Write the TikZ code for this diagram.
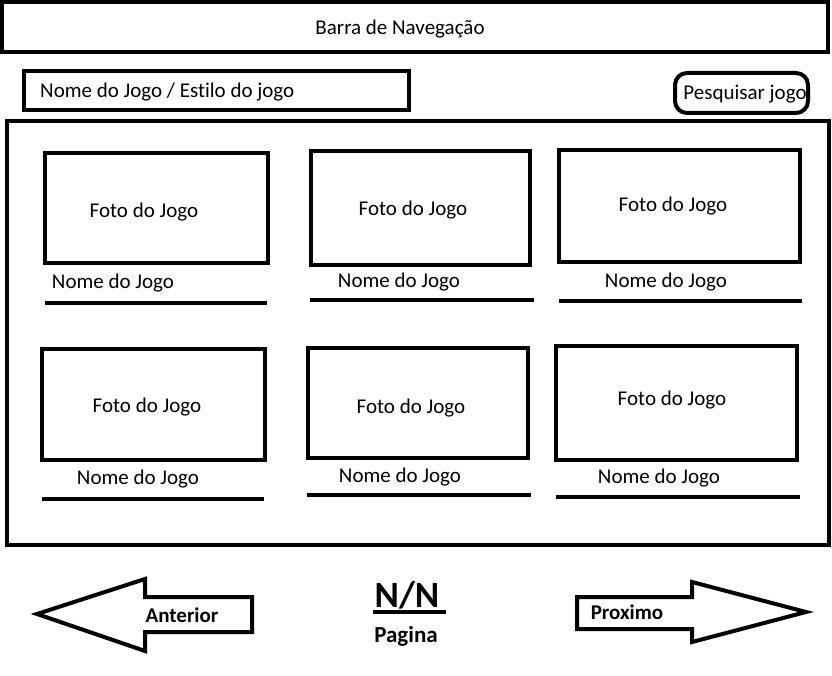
\documentclass[tikz,border=0pt]{standalone}
\usepackage{fontspec}
\setmainfont{Carlito}[Ligatures=NoCommon]
\usetikzlibrary{positioning}
\tikzset{
  box/.style={draw, line width=4pt, inner sep=0pt, outer sep=0pt},
  card/.style={box, minimum width=223, minimum height=110},
  wide card/.style={box, minimum width=241, minimum height=112},
  label/.style={font=\fontsize{21}{25}\selectfont, inner sep=0pt},
  bold label/.style={font=\fontsize{21}{25}\selectfont\bfseries, inner sep=0pt},
  underline/.style={line width=4pt},
  arrowshape/.style={line width=4pt, line join=miter}
}

\begin{document}
\begin{tikzpicture}[x=1pt,y=-1pt]
  \useasboundingbox (0,0) rectangle (832,676);

  % --- HEADER ---
  \node[box, minimum width=826, minimum height=50] (navbar) at (415,27) {};
  \node[label] (navtext) at (400,29) {Barra de Navegação};

  \node[box, minimum width=385, minimum height=39] (busca) at (216.5,90.5) {};
  \node[label, anchor=west] (buscatext) at (40,92) {Nome do Jogo / Estilo do jogo};

  \node[box, rounded corners=12pt, minimum width=133, minimum height=40] (pesquisar) at (741.5,93) {};
  \node[label] (pesquisartext) at (745,94) {Pesquisar jogo};

  % --- GRID OF GAMES ---
  \node[box, minimum width=822, minimum height=424] (grade) at (418,333) {};

  % Row 1
  \node[card] (foto1) at (156.5,208) {};
  \node[label] (foto1-t) at (144,212) {Foto do Jogo};
  \node[label] (nome1) at (113,283) {Nome do Jogo};
  \draw[underline] (45,303) -- (267,303);

  \node[card, minimum width=219, minimum height=114] (foto2) at (420.5,208) {};
  \node[label] (foto2-t) at (413,210) {Foto do Jogo};
  \node[label] (nome2) at (399,282) {Nome do Jogo};
  \draw[underline] (310,300) -- (534,300);

  \node[wide card] (foto3) at (679.5,206) {};
  \node[label] (foto3-t) at (673,206) {Foto do Jogo};
  \node[label] (nome3) at (666,282) {Nome do Jogo};
  \draw[underline] (559,301) -- (802,301);

  % Row 2
  \node[card, minimum height=111] (foto4) at (153.5,404.5) {};
  \node[label] (foto4-t) at (147,407) {Foto do Jogo};
  \node[label] (nome4) at (138,479) {Nome do Jogo};
  \draw[underline] (42,499) -- (264,499);

  \node[card, minimum width=220] (foto5) at (418,403) {};
  \node[label] (foto5-t) at (411,408) {Foto do Jogo};
  \node[label] (nome5) at (400,477) {Nome do Jogo};
  \draw[underline] (307,495) -- (531,495);

  \node[wide card, minimum height=114] (foto6) at (676.5,403) {};
  \node[label] (foto6-t) at (672,400) {Foto do Jogo};
  \node[label] (nome6) at (659,478) {Nome do Jogo};
  \draw[underline] (556,497) -- (800,497);

  % --- PAGINATION ---
  \draw[arrowshape] (37,614) -- (145,579) -- (145,597) -- (252,597) -- (252,632)
    -- (145,632) -- (145,651) -- cycle;
  \node[bold label] (anterior) at (182,615) {Anterior};

  \draw[arrowshape] (806,612) -- (692,582) -- (692,597) -- (577,597) -- (577,629)
    -- (692,629) -- (692,642) -- cycle;
  \node[bold label] (proximo) at (627,612) {Proximo};

  \node[font=\fontsize{37}{42}\selectfont\bfseries, inner sep=0pt] (pagina-n) at (407,595) {N/N};
  \draw[underline] (373,612) -- (446,612);
  \node[font=\fontsize{23}{27}\selectfont\bfseries, inner sep=0pt] (pagina) at (406,636) {Pagina};

\end{tikzpicture}
\end{document}
